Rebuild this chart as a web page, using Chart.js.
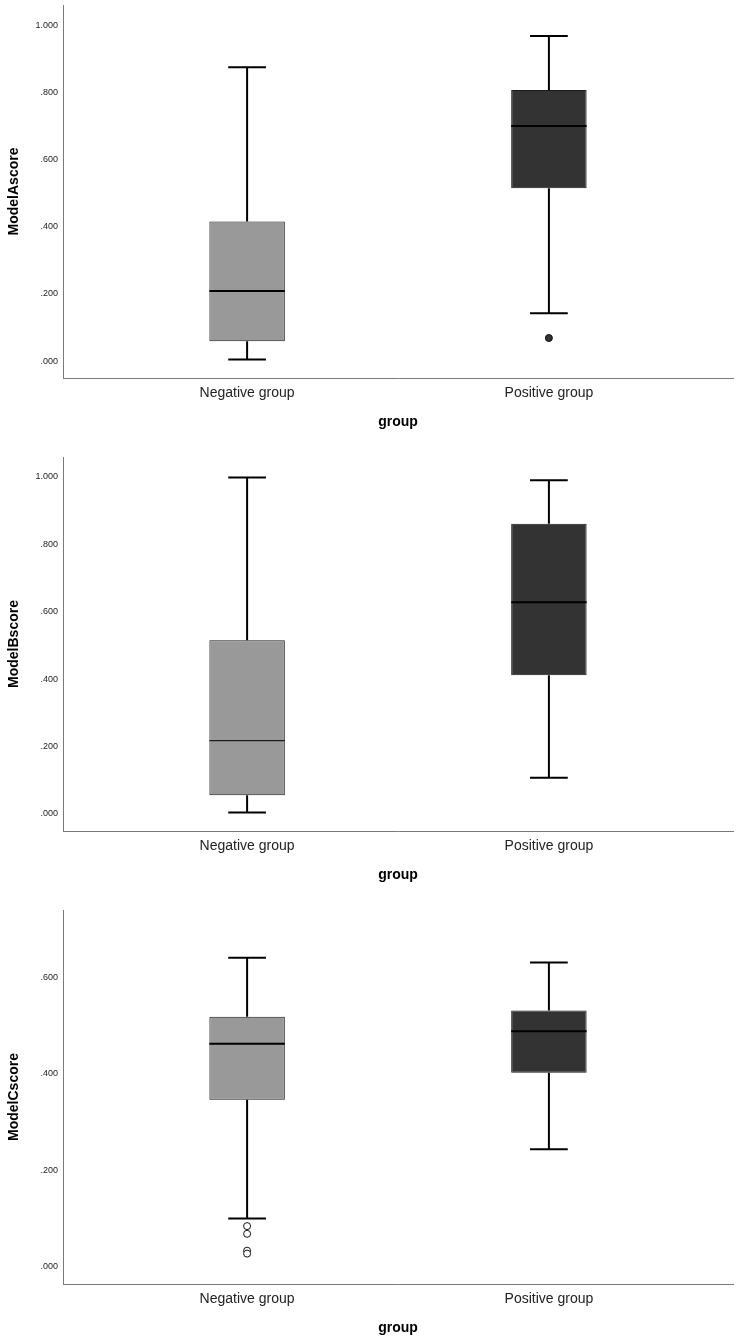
<!DOCTYPE html>
<html>
<head>
<meta charset="utf-8">
<script src="https://cdn.jsdelivr.net/npm/chart.js@4.4.0/dist/chart.umd.min.js"></script>
<style>
  body { margin: 0; background: #fff; }
  .panel { position: absolute; left: 0; width: 740px; }
</style>
</head>
<body>
<div class="panel" style="top:0;height:440px"><canvas id="chartA"></canvas></div>
<div class="panel" style="top:440px;height:460px"><canvas id="chartB"></canvas></div>
<div class="panel" style="top:900px;height:439px"><canvas id="chartC"></canvas></div>
<script>
// Categories and box plot stats
const categories = ['Negative group', 'Positive group'];

const modelALow = [0.005, 0.143];
const modelAQ1 = [0.059, 0.515];
const modelAMedian = [0.209, 0.700];
const modelAQ3 = [0.416, 0.807];
const modelAHigh = [0.875, 0.968];
const modelAOutliers = [[], [0.069]];

const modelBLow = [0.004, 0.107];
const modelBQ1 = [0.055, 0.411];
const modelBMedian = [0.217, 0.628];
const modelBQ3 = [0.515, 0.861];
const modelBHigh = [0.998, 0.990];
const modelBOutliers = [[], []];

const modelCLow = [0.0995, 0.243];
const modelCQ1 = [0.346, 0.402];
const modelCMedian = [0.462, 0.488];
const modelCQ3 = [0.518, 0.531];
const modelCHigh = [0.640, 0.630];
const modelCOutliers = [[0.084, 0.068, 0.033, 0.027], []];

const ticksAB = [0, 0.2, 0.4, 0.6, 0.8, 1.0];
const ticksC = [0, 0.2, 0.4, 0.6];

// styles
const boxFills = ['#999999', '#333333'];
const boxWidth = 0.25;   // in category units
const capWidth = 0.125;
const axisColor = '#7a7a7a';
const fontFamily = "'Liberation Sans', Arial, sans-serif";

function buildDatasets(low, q1, med, q3, high, outliers, medianWidths, outlierFill) {
    var whiskers = [];
    var medians = [];
    var points = [];
    categories.forEach(function (_, i) {
        whiskers.push({x: i, y: q3[i]}, {x: i, y: high[i]}, {x: i, y: null});
        whiskers.push({x: i - capWidth / 2, y: high[i]}, {x: i + capWidth / 2, y: high[i]}, {x: i, y: null});
        whiskers.push({x: i, y: q1[i]}, {x: i, y: low[i]}, {x: i, y: null});
        whiskers.push({x: i - capWidth / 2, y: low[i]}, {x: i + capWidth / 2, y: low[i]}, {x: i, y: null});
        medians.push({x: i - boxWidth / 2, y: med[i]}, {x: i + boxWidth / 2, y: med[i]}, {x: i, y: null});
        outliers[i].forEach(function (v) { points.push({x: i, y: v}); });
    });
    return [
        {
            type: 'line', data: points, showLine: false, order: 0,
            pointRadius: 3.5, pointBorderWidth: 1, pointBorderColor: '#111',
            pointBackgroundColor: outlierFill
        },
        {
            type: 'line', data: medians, order: 1, pointRadius: 0, borderColor: '#000', borderWidth: 2,
            segment: {
                borderWidth: function (ctx) { return medianWidths[Math.floor(ctx.p0DataIndex / 3)]; }
            }
        },
        {
            type: 'line', data: whiskers, order: 2, pointRadius: 0, borderColor: '#000', borderWidth: 2
        },
        {
            type: 'bar', order: 3,
            data: categories.map(function (_, i) { return {x: i, y: [q1[i], q3[i]]}; }),
            backgroundColor: boxFills, borderColor: '#1a1a1a', borderWidth: 1, borderSkipped: false,
            categoryPercentage: 1, barPercentage: boxWidth
        }
    ];
}

function makeChart(id, title, datasets, yMin, yMax, yTicks, pad) {
    return new Chart(document.getElementById(id), {
        type: 'bar',
        data: {datasets: datasets},
        options: {
            responsive: true,
            maintainAspectRatio: false,
            animation: false,
            events: [],
            layout: {padding: pad},
            plugins: {legend: {display: false}, tooltip: {enabled: false}},
            scales: {
                x: {
                    type: 'linear', min: -0.61, max: 1.61, offset: false,
                    grid: {display: false, drawTicks: false, offset: false},
                    border: {display: true, color: axisColor, width: 1},
                    afterBuildTicks: function (scale) {
                        scale.ticks = categories.map(function (_, i) { return {value: i}; });
                    },
                    afterFit: function (scale) {
                        scale.height = 53;
                        scale.paddingLeft = 0;
                        scale.paddingRight = 0;
                    },
                    ticks: {
                        autoSkip: false, maxRotation: 0, padding: 7, color: '#222',
                        font: {family: fontFamily, size: 14},
                        callback: function (v, i) { return categories[i]; }
                    },
                    title: {
                        display: true, text: 'group', color: '#000', padding: 0,
                        font: {family: fontFamily, size: 14, weight: 'bold'}
                    }
                },
                y: {
                    type: 'linear', min: yMin, max: yMax,
                    grid: {display: false, drawTicks: false},
                    border: {display: true, color: axisColor, width: 1},
                    afterBuildTicks: function (scale) {
                        scale.ticks = yTicks.map(function (v) { return {value: v}; });
                    },
                    afterFit: function (scale) {
                        scale.width = 63;
                        scale.paddingTop = 0;
                        scale.paddingBottom = 0;
                    },
                    ticks: {
                        padding: 5, color: '#222',
                        font: {family: fontFamily, size: 9},
                        callback: function (v) { return v.toFixed(3).replace(/^0/, ''); }
                    },
                    title: {
                        display: true, text: title, color: '#000', padding: {top: 6, bottom: 0},
                        font: {family: fontFamily, size: 14, weight: 'bold'}
                    }
                }
            }
        }
    });
}

makeChart('chartA', 'ModelAscore',
    buildDatasets(modelALow, modelAQ1, modelAMedian, modelAQ3, modelAHigh, modelAOutliers, [2, 2], '#333333'),
    -0.05, 1.06, ticksAB, {top: 4, bottom: 9, left: 0, right: 7});

makeChart('chartB', 'ModelBscore',
    buildDatasets(modelBLow, modelBQ1, modelBMedian, modelBQ3, modelBHigh, modelBOutliers, [1, 2], '#333333'),
    -0.051, 1.059, ticksAB, {top: 17, bottom: 16, left: 0, right: 7});

makeChart('chartC', 'ModelCscore',
    buildDatasets(modelCLow, modelCQ1, modelCMedian, modelCQ3, modelCHigh, modelCOutliers, [2, 2], '#ffffff'),
    -0.036, 0.739, ticksC, {top: 10, bottom: 2, left: 0, right: 7});
</script>
</body>
</html>
